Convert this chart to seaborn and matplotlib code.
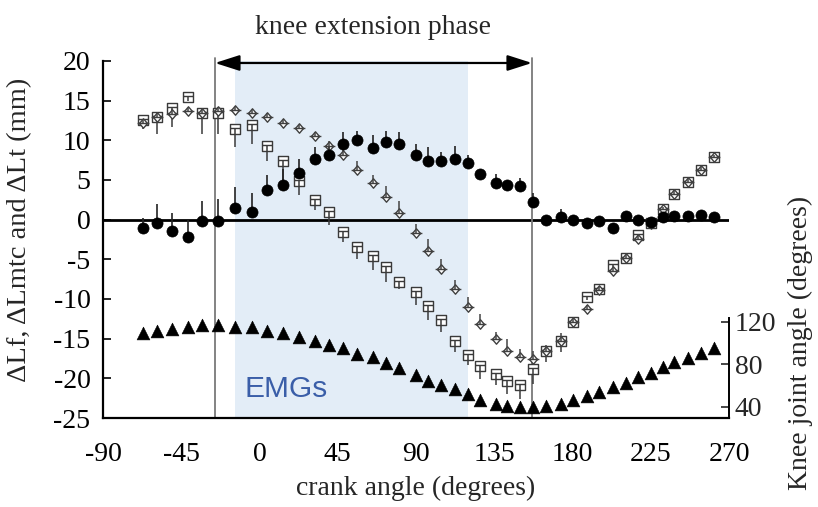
import numpy as np
import pandas as pd
import matplotlib
matplotlib.use("Agg")
import matplotlib.pyplot as plt
from matplotlib.path import Path
import seaborn as sns

# crank angle (degrees) of each sample
crank = [-67, -59, -50.5, -41, -33, -23.7, -14, -4.5, 4.5, 13.7, 22.7, 32, 40, 48,
         56.2, 65.1, 72.7, 80.4, 89.8, 96.7, 104.4, 112.4, 119.7, 126.8, 135.8,
         142.1, 149.8, 157.1, 164.7, 173.4, 180.4, 188.1, 195.4, 203.1, 210.7,
         217.8, 225.1, 231.8, 238.5, 246.6, 253.9, 261.5]

# ΔLmtc (mm) and its SD
d_lmtc = [12.5, 13.0, 14.1, 15.4, 13.4, 13.4, 11.4, 11.9, 9.3, 7.4, 4.9, 2.5, 1.0,
          -1.5, -3.4, -4.6, -6.0, -7.8, -9.1, -10.9, -12.7, -15.3, -17.0, -18.5,
          -19.4, -20.3, -20.9, -18.8, -16.6, -15.3, -12.9, -9.7, -8.7, -5.7, -4.8,
          -1.9, -0.4, 1.3, 3.2, 4.8, 6.2, 7.9]
sd_lmtc = [1.1, 2.2, 2.4, 0.5, 2.6, 2.6, 2.3, 2.4, 1.9, 3.2, 1.8, 1.3, 1.7, 1.35,
           1.5, 1.8, 1.8, 0.9, 1.7, 1.8, 1.4, 1.35, 1.35, 1.6, 1.5, 1.7, 1.7, 1.9,
           1.35, 1.35, 0.5, 0.4, 0.4, 0.4, 0.4, 0.6, 0.4, 0.3, 0.5, 0.4, 0.4, 0.3]

# ΔLt (mm) and its SD
d_lt = [12.2, 13.0, 13.3, 13.7, 13.4, 13.7, 13.8, 13.4, 13.0, 12.2, 11.5, 10.5, 9.3,
        8.1, 6.3, 4.6, 2.9, 0.8, -1.7, -3.9, -6.2, -8.7, -11.0, -13.2, -15.1, -16.5,
        -17.3, -17.6, -16.6, -15.3, -12.9, -11.2, -8.9, -6.5, -4.8, -2.5, -0.6, 1.3,
        3.2, 4.8, 6.3, 7.9]
sd_lt = [0.4, 0.4, 0.6, 0.4, 0.5, 0.5, 0.4, 0.4, 0.4, 0.4, 0.4, 0.5, 0.6, 0.8, 1.1,
         1.0, 1.3, 1.5, 1.1, 1.5, 1.2, 1.1, 1.3, 1.3, 1.0, 1.5, 1.0, 1.1, 0.8, 1.0,
         0.4, 0.4, 0.4, 0.4, 0.4, 0.4, 0.4, 0.3, 0.5, 0.4, 0.4, 0.3]

# ΔLf (mm) and its SD
d_lf = [-1.0, -0.4, -1.4, -2.2, -0.2, -0.2, 1.5, 1.0, 3.7, 4.4, 5.9, 7.6, 8.2, 9.5,
        10.0, 9.0, 9.8, 9.5, 8.1, 7.4, 7.4, 7.7, 7.1, 5.7, 4.6, 4.4, 4.2, 2.2, 0.0,
        0.3, 0.0, -0.4, -0.2, -1.0, 0.5, 0.0, -0.3, 0.3, 0.5, 0.5, 0.6, 0.3]
sd_lf = [1.2, 2.4, 2.3, 2.1, 2.6, 2.8, 2.6, 2.4, 1.9, 2.0, 1.8, 1.5, 1.0, 1.5, 1.2,
         1.7, 1.4, 1.5, 1.5, 1.8, 1.1, 1.6, 1.0, 0.3, 1.1, 0.3, 1.1, 1.1, 0.2, 1.1,
         0.2, 0.2, 0.2, 0.2, 0.2, 0.2, 0.2, 0.2, 0.2, 0.2, 0.2, 0.2]

# knee joint angle (degrees)
knee = [108.9, 111.3, 112.7, 115.1, 116.7, 116.7, 115.1, 115.1, 111.3, 108.9, 105.7,
        101.9, 97.9, 94.8, 89.4, 86.3, 80.7, 75.9, 69.6, 64.3, 60.2, 56.2, 51.5,
        46.1, 42.1, 40.5, 39.2, 39.2, 40.5, 42.4, 46.1, 49.9, 53.9, 58.6, 62.4,
        68.0, 71.8, 77.5, 82.2, 85.9, 90.1, 94.8]

x_ticks = [-90, -45, 0, 45, 90, 135, 180, 225, 270]
y_ticks = [-25, -20, -15, -10, -5, 0, 5, 10, 15, 20]
knee_ticks = [40, 80, 120]
phase = (-25.6, 156.7)      # knee extension phase
emg_window = (-14, 120)     # EMG analysis window

df = pd.DataFrame({"crank": crank, "lmtc": d_lmtc, "lt": d_lt, "lf": d_lf,
                   "knee": knee})

sns.set_style("white")
plt.rcParams["font.family"] = ["Liberation Serif", "DejaVu Serif"]
plt.rcParams["axes.unicode_minus"] = False

FS = 20

# marker shapes: square with a mid bar, diamond with a cross bar
sq_path = Path([(-1, -1), (1, -1), (1, 1), (-1, 1), (-1, -1), (-1, 0.15), (1, 0.15)],
               [Path.MOVETO, Path.LINETO, Path.LINETO, Path.LINETO, Path.CLOSEPOLY,
                Path.MOVETO, Path.LINETO])
dia_path = Path([(0, -1), (0.85, 0), (0, 1), (-0.85, 0), (0, -1), (-1.25, 0), (1.25, 0)],
                [Path.MOVETO, Path.LINETO, Path.LINETO, Path.LINETO, Path.CLOSEPOLY,
                 Path.MOVETO, Path.LINETO])

fig = plt.figure(figsize=(8.18, 5.07), dpi=100)
W, H = 818, 507
ax = fig.add_axes([103 / W, 1 - 418 / H, (729 - 103) / W, (418 - 61) / H])

ax.axvspan(*emg_window, color="#e3edf7", lw=0, zorder=0)
ax.axhline(0, color="black", lw=2.0, zorder=1)
for xv in phase:
    ax.plot([xv, xv], [-25, 20.4], color="#7a7a7a", lw=1.3, zorder=1, clip_on=False)

ax.annotate("", xy=(phase[0], 19.75), xytext=(phase[1], 19.75),
            arrowprops=dict(arrowstyle="<|-|>,head_length=1.5,head_width=0.48",
                            mutation_scale=10, color="black", lw=1.6,
                            shrinkA=0, shrinkB=0),
            annotation_clip=False, zorder=5)
ax.text(np.mean(phase), 24.2, "knee extension phase", ha="center", va="center",
        fontsize=FS, clip_on=False)

# ΔLmtc (open squares, SD downward)
sns.scatterplot(data=df, x="crank", y="lmtc", marker=sq_path, s=52, color="white",
                edgecolor="#3a3a3a", linewidth=1.0, ax=ax, zorder=3, legend=False)
sq_pts = ax.collections[-1]
sq_pts.set_facecolor("white")
sq_pts.set_edgecolor("#3a3a3a")
ax.vlines(crank, np.array(d_lmtc) - np.array(sd_lmtc), d_lmtc, color="#3a3a3a",
          lw=1.1, zorder=4)

# ΔLt (open diamonds, SD upward)
sns.scatterplot(data=df, x="crank", y="lt", marker=dia_path, s=72, color="white",
                edgecolor="#555555", linewidth=1.0, ax=ax, zorder=4, legend=False)
dm_pts = ax.collections[-1]
dm_pts.set_facecolor("white")
dm_pts.set_edgecolor("#404040")
ax.vlines(crank, d_lt, np.array(d_lt) + np.array(sd_lt), color="#444444",
          lw=1.1, zorder=4)

# ΔLf (filled circles, SD upward)
ax.vlines(crank, d_lf, np.array(d_lf) + np.array(sd_lf), color="#222222",
          lw=1.2, zorder=4)
sns.scatterplot(data=df, x="crank", y="lf", marker="o", s=64, color="black",
                edgecolor="black", linewidth=0.5, ax=ax, zorder=5, legend=False)

ax.set_xlim(-90, 270)
ax.set_ylim(-25, 20)
ax.set_xticks(x_ticks)
ax.set_yticks(y_ticks)
ax.tick_params(axis="both", direction="in", length=6, width=1.2, labelsize=FS,
               colors="black")
ax.tick_params(axis="x", pad=17)
ax.tick_params(axis="y", pad=9)
for side in ("top", "right"):
    ax.spines[side].set_visible(False)
for side in ("left", "bottom"):
    ax.spines[side].set_color("black")
    ax.spines[side].set_linewidth(1.6)
ax.set_xlabel("crank angle (degrees)", fontsize=FS, labelpad=7)
ax.set_ylabel("")

ax.text(-8.5, -21.3, "EMGs", color="#3a5ea8", fontsize=21.5,
        family=["Liberation Sans", "DejaVu Sans"], ha="left", va="center")

# knee joint angle on the secondary axis
ax2 = ax.twinx()
sns.scatterplot(data=df, x="crank", y="knee", marker="^", s=85, color="black",
                edgecolor="black", linewidth=0.4, ax=ax2, zorder=5, legend=False)
ax2.set_ylim(29.2, 365.2)
ax2.set_yticks(knee_ticks)
ax2.tick_params(axis="y", direction="in", length=6, width=1.2, labelsize=FS, pad=4)
ax2.set_ylabel("")
ax2.set_xlabel("")
for side in ("top", "left", "bottom"):
    ax2.spines[side].set_visible(False)
ax2.spines["right"].set_bounds(29.2, 123)
ax2.spines["right"].set_color("black")
ax2.spines["right"].set_linewidth(1.4)

fig.text(20 / W, 1 - 230 / H, "ΔLf, ΔLmtc and ΔLt (mm)", rotation=90,
         ha="center", va="center", fontsize=20.5)
fig.text(800 / W, 1 - 343 / H, "Knee joint angle (degrees)", rotation=90,
         ha="center", va="center", fontsize=FS)

fig.savefig("out.png", dpi=100, facecolor="white")
